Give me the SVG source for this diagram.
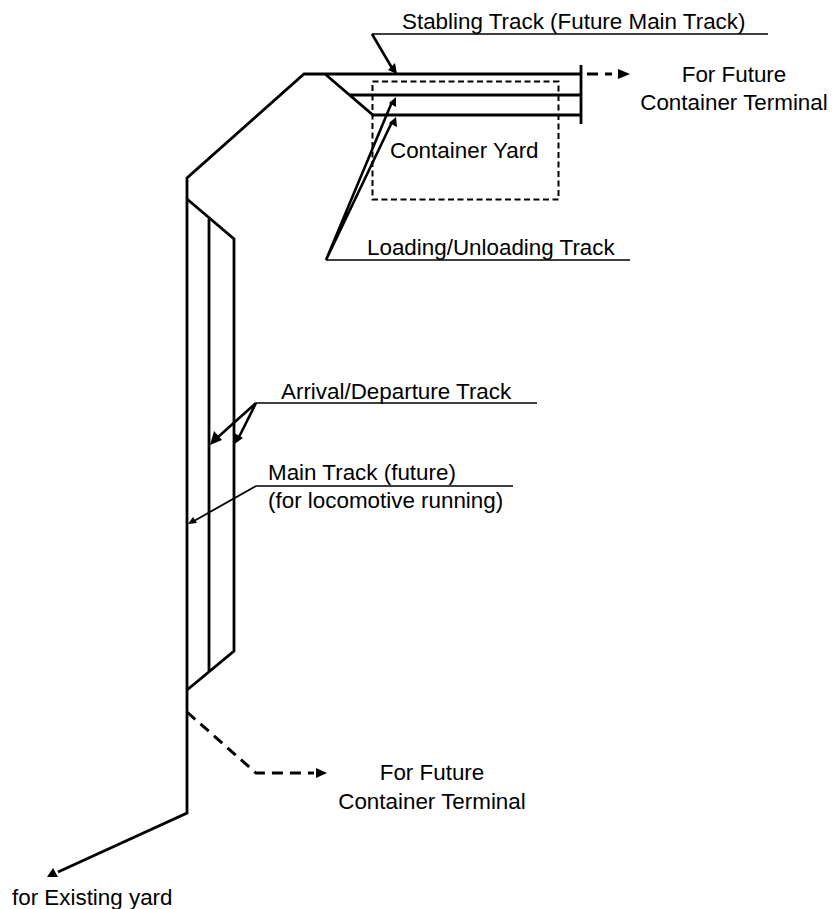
<svg xmlns="http://www.w3.org/2000/svg" width="832" height="909" viewBox="0 0 832 909">
<style>
text{font-family:"Liberation Sans",Arial,sans-serif;font-size:22.400px;fill:#000}
.m{text-anchor:middle}
.t{fill:none;stroke:#000;stroke-width:2.800;stroke-linejoin:miter}
.l{fill:none;stroke:#000;stroke-width:1.400}
.a{fill:none;stroke:#000;stroke-width:2.600}
.d{fill:none;stroke:#000;stroke-width:3;stroke-dasharray:11 7}
.h{fill:#000;stroke:none}
</style>
<rect width="832" height="909" fill="#fff"/>
<g id="tracks">
<path class="t" d="M187 199V178L304 74H581M325 74L373 115H581M349 95H581M581 65V124"/>
<path class="t" d="M187 199V690M187 199L234 239V651L187 690M209 219V672M187 690V813L58 872"/>
</g>
<g id="yard"><rect x="372.500" y="81.500" width="186" height="118" fill="none" stroke="#000" stroke-width="2" stroke-dasharray="6 3.500"/></g>
<g id="connectors">
<path class="l" d="M372 34H768M326 260H630M256 403H537M256 486H513"/>
<path class="a" d="M372 34L392 68M326 260L392 102M326 260L392 122M256 403L217 438M256 403L237 441"/>
<path fill="none" stroke="#000" stroke-width="1.800" d="M256 486L194 521"/>
<path class="d" d="M587 74H612" stroke-dasharray="9 8"/>
<path class="d" d="M187 712L256 773H314"/>
<polygon class="h" points="397,74 388,70 395,63"/>
<polygon class="h" points="396,97 389,103 396,107"/>
<polygon class="h" points="396,117 389,123 397,127"/>
<polygon class="h" points="210,445 222,440 214,431"/>
<polygon class="h" points="233,445 243,438 234,433"/>
<polygon class="h" points="188,524 197,523 193,517"/>
<polygon class="h" points="630,74 618,69 618,79"/>
<polygon class="h" points="327,773 316,768 316,778"/>
<polygon class="h" points="47,877 58,877 53,868"/>
</g>
<g id="labels">
<text x="402" y="29">Stabling Track (Future Main Track)</text>
<text class="m" x="734" y="82">For Future</text>
<text class="m" x="734" y="110">Container Terminal</text>
<text x="390" y="158">Container Yard</text>
<text x="367" y="255">Loading/Unloading Track</text>
<text x="281" y="399">Arrival/Departure Track</text>
<text x="268" y="480">Main Track (future)</text>
<text x="268" y="508">(for locomotive running)</text>
<text class="m" x="432" y="780">For Future</text>
<text class="m" x="432" y="809">Container Terminal</text>
<text x="12" y="905">for Existing yard</text>
</g>
</svg>
